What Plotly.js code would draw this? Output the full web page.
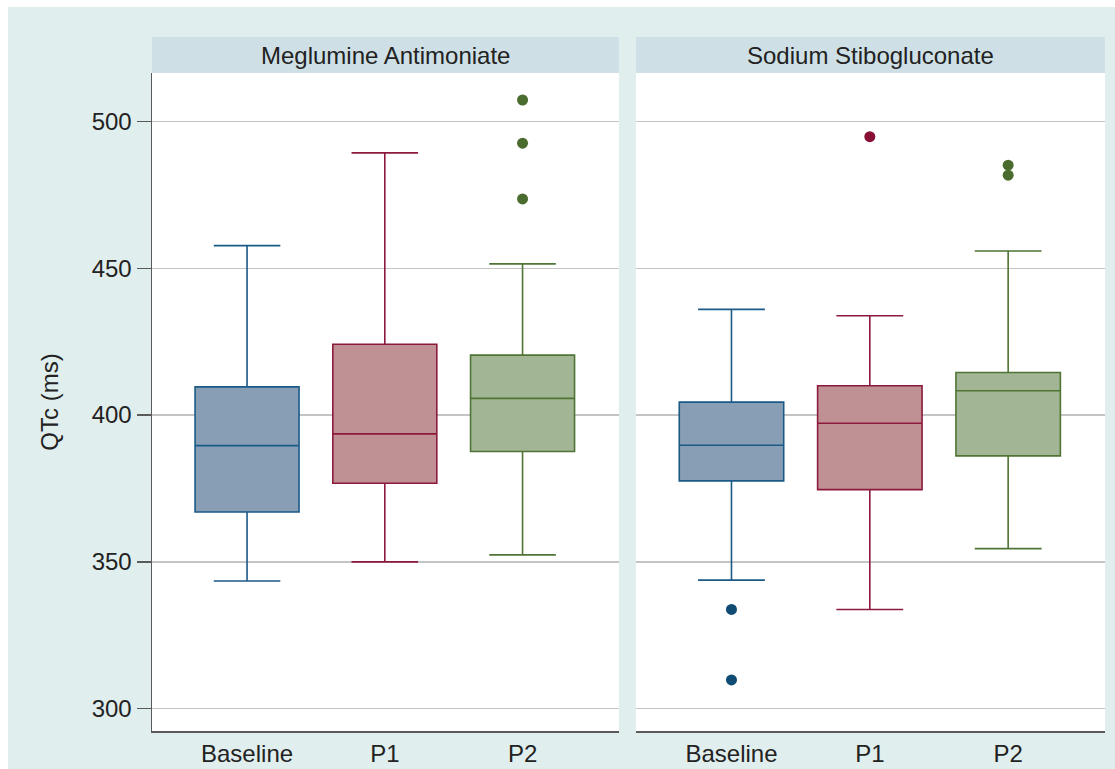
<!DOCTYPE html>
<html>
<head>
<meta charset="utf-8">
<script src="https://cdn.plot.ly/plotly-3.0.1.min.js"></script>
<style>
html,body{margin:0;padding:0;background:#ffffff;}
#chart{position:absolute;left:8px;top:7px;width:1107px;height:762px;}
</style>
</head>
<body>
<div id="chart"></div>
<script>
// Categories and panels
const groups = ['Baseline', 'P1', 'P2'];
const panels = ['Meglumine Antimoniate', 'Sodium Stibogluconate'];

// Meglumine Antimoniate box statistics (QTc, ms)
const maLower  = [343.5, 350.0, 352.4];
const maQ1     = [367.0, 376.8, 387.6];
const maMedian = [389.6, 393.6, 405.7];
const maQ3     = [409.6, 424.1, 420.4];
const maUpper  = [457.7, 489.3, 451.5];
const maOutX   = ['P2', 'P2', 'P2'];
const maOutY   = [507.3, 492.6, 473.6];

// Sodium Stibogluconate box statistics (QTc, ms)
const ssLower  = [343.8, 333.8, 354.5];
const ssQ1     = [377.6, 374.6, 386.1];
const ssMedian = [389.7, 397.2, 408.3];
const ssQ3     = [404.4, 410.0, 414.5];
const ssUpper  = [436.0, 433.8, 455.9];
const ssOutX   = ['Baseline', 'Baseline', 'P1', 'P2', 'P2'];
const ssOutY   = [333.8, 309.8, 494.8, 485.1, 481.7];

const yTicks = [300, 350, 400, 450, 500];

// Styles
const lineColors = ['#1b5a86', '#8c1a3d', '#4f7434'];
const fillColors = ['#879eb4', '#c09194', '#a2b695'];
const dotColors  = ['#0f4b73', '#8a0f34', '#4b6c2f'];
const FONT = 'Liberation Sans, Arial, sans-serif';
const TXT = '#222222';
const FS = 24;

const traces = [];
function addPanel(xa, lower, q1, med, q3, upper, outX, outY) {
  groups.forEach((g, i) => {
    traces.push({
      type: 'box', xaxis: xa, yaxis: 'y',
      x: [g], lowerfence: [lower[i]], q1: [q1[i]], median: [med[i]],
      q3: [q3[i]], upperfence: [upper[i]],
      width: 0.755, whiskerwidth: 0.64,
      fillcolor: fillColors[i],
      line: {color: lineColors[i], width: 1.6},
      boxpoints: false, showlegend: false, hoverinfo: 'skip'
    });
  });
  traces.push({
    type: 'scatter', mode: 'markers', xaxis: xa, yaxis: 'y',
    x: outX, y: outY,
    marker: {size: 11, color: outX.map(g => dotColors[groups.indexOf(g)])},
    showlegend: false, hoverinfo: 'skip'
  });
}
addPanel('x', maLower, maQ1, maMedian, maQ3, maUpper, maOutX, maOutY);
addPanel('x2', ssLower, ssQ1, ssMedian, ssQ3, ssUpper, ssOutX, ssOutY);

const stripTop = 1 + 36 / 658;
const d1 = [0, 0.4900];
const d2 = [0.5079, 1];

const xCommon = {
  type: 'category', categoryorder: 'array', categoryarray: groups,
  range: [-0.69, 2.70], showgrid: false, zeroline: false,
  showline: true, linecolor: '#5a5a5a', linewidth: 1.5,
  ticks: '', tickfont: {family: FONT, size: FS, color: TXT},
  ticklabelstandoff: 1, fixedrange: true
};

const layout = {
  width: 1107, height: 762,
  margin: {l: 144, r: 10, t: 66, b: 38},
  paper_bgcolor: '#e1eeee', plot_bgcolor: '#ffffff',
  font: {family: FONT, color: TXT},
  boxmode: 'overlay',
  xaxis: Object.assign({}, xCommon, {domain: d1, anchor: 'y'}),
  xaxis2: Object.assign({}, xCommon, {domain: d2, anchor: 'y'}),
  yaxis: {
    range: [292.4, 516.5], tickvals: yTicks, ticktext: yTicks.map(String),
    showgrid: true, gridcolor: '#c4c4c4', gridwidth: 1.3,
    zeroline: false, showline: true, linecolor: '#5a5a5a', linewidth: 1.5,
    ticks: 'outside', ticklen: 14, tickcolor: '#5a5a5a', tickwidth: 1.3,
    tickfont: {family: FONT, size: FS, color: TXT},
    title: {text: 'QTc (ms)', font: {family: FONT, size: FS, color: TXT}, standoff: 26},
    anchor: 'x', fixedrange: true
  },
  shapes: [
    {type: 'rect', xref: 'paper', yref: 'paper', x0: d1[0], x1: d1[1], y0: 1, y1: stripTop,
     fillcolor: '#cee0e6', line: {width: 0}, layer: 'below'},
    {type: 'rect', xref: 'paper', yref: 'paper', x0: d2[0], x1: d2[1], y0: 1, y1: stripTop,
     fillcolor: '#cee0e6', line: {width: 0}, layer: 'below'}
  ],
  annotations: [
    {text: panels[0], xref: 'paper', yref: 'paper', x: (d1[0] + d1[1]) / 2, y: (1 + stripTop) / 2,
     xanchor: 'center', yanchor: 'middle', showarrow: false, font: {family: FONT, size: FS, color: TXT}},
    {text: panels[1], xref: 'paper', yref: 'paper', x: (d2[0] + d2[1]) / 2, y: (1 + stripTop) / 2,
     xanchor: 'center', yanchor: 'middle', showarrow: false, font: {family: FONT, size: FS, color: TXT}}
  ]
};

Plotly.newPlot('chart', traces, layout, {displayModeBar: false, staticPlot: true});
</script>
</body>
</html>
